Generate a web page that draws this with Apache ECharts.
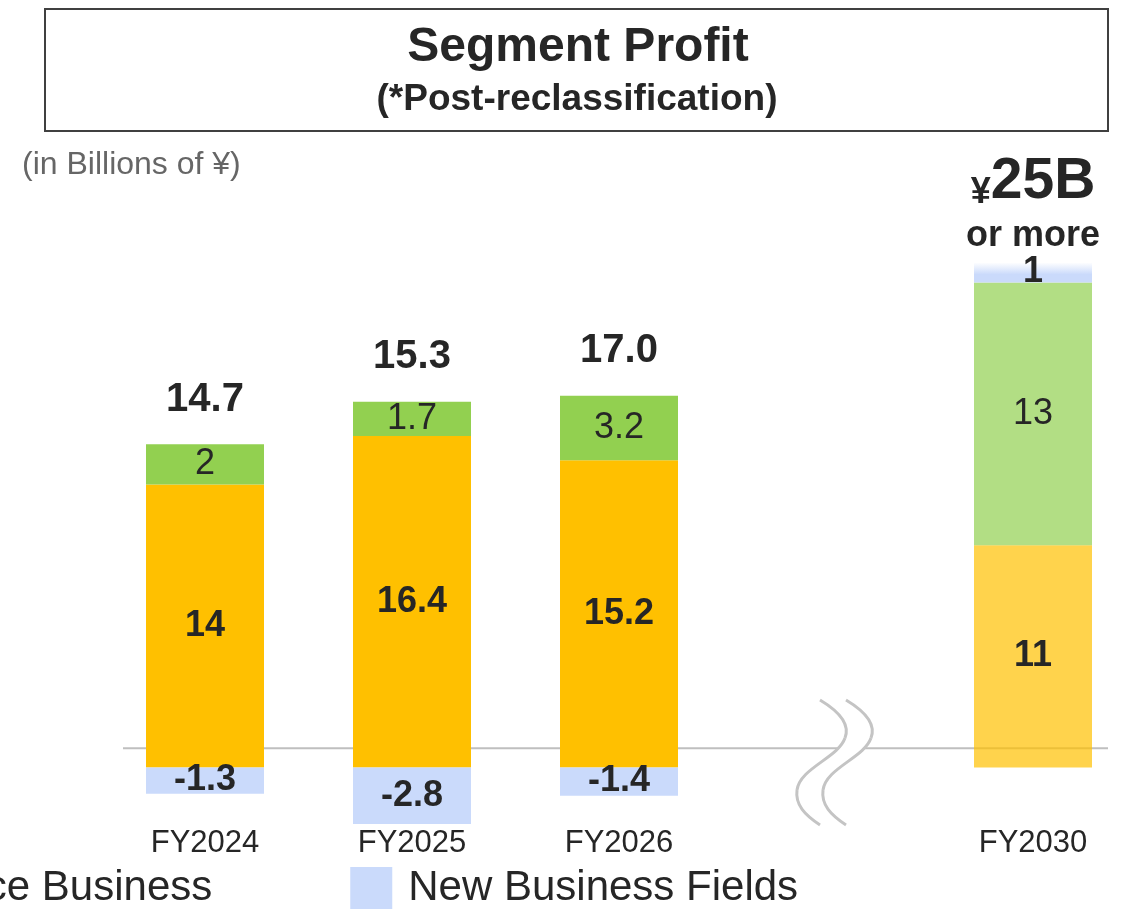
<!DOCTYPE html>
<html>
<head>
<meta charset="utf-8">
<script src="https://cdn.jsdelivr.net/npm/echarts@6/dist/echarts.min.js"></script>
<style>
  html, body { margin: 0; padding: 0; background: #fff; }
  #chart { width: 1127px; height: 911px; }
</style>
</head>
<body>
<div id="chart"></div>
<script>
// 数据
const categories = ['FY2024', 'FY2025', 'FY2026', '', 'FY2030']
const coreBusiness = [14, 16.4, 15.2, null, 11]
const serviceBusiness = [2, 1.7, 3.2, null, 13]
const newBusiness = [-1.3, -2.8, -1.4, null, 1]
const totalLabels = ['14.7', '15.3', '17.0', null, '25B']
const legendNames = ['Core Business', 'Service Business', 'New Business Fields']

const FONT = '"Liberation Sans", Arial, sans-serif'
const TEXT = '#262626'
const FORECAST = 4

// FY2030 is drawn lighter
const withForecast = (arr, style) => arr.map((v, i) => (i === FORECAST ? { value: v, itemStyle: style } : v))

const stackTops = categories.map((c, i) =>
  coreBusiness[i] == null ? null : coreBusiness[i] + serviceBusiness[i] + Math.max(newBusiness[i], 0)
)

const segLabel = (bold) => ({
  show: true,
  position: 'inside',
  fontFamily: FONT,
  fontSize: 36,
  fontWeight: bold ? 'bold' : 'normal',
  color: TEXT,
  formatter: (p) => String(p.value)
})

const chart = echarts.init(document.getElementById('chart'))

chart.setOption({
  animation: false,
  legend: {
    data: legendNames,
    left: -642,
    top: 862,
    itemWidth: 42,
    itemHeight: 42,
    itemGap: 138,
    icon: 'rect',
    textStyle: { fontFamily: FONT, fontSize: 42, color: TEXT, padding: [0, 0, 0, 11] }
  },
  grid: {
    left: 101.5,
    width: 1035,
    top: 222,
    height: 606,
    containLabel: false,
    outerBoundsMode: 'none'
  },
  xAxis: {
    type: 'category',
    data: categories,
    axisLine: { show: false },
    axisTick: { show: false },
    axisLabel: {
      margin: 0,
      fontFamily: FONT,
      fontSize: 31,
      color: TEXT
    }
  },
  yAxis: {
    type: 'value',
    min: -3,
    max: 27,
    show: false,
    splitLine: { show: false }
  },
  series: [
    {
      name: legendNames[0],
      type: 'bar',
      stack: 'profit',
      barWidth: 118,
      itemStyle: { color: '#FFC000' },
      label: segLabel(true),
      data: withForecast(coreBusiness, { color: 'rgba(255, 192, 0, 0.7)' })
    },
    {
      name: legendNames[1],
      type: 'bar',
      stack: 'profit',
      barWidth: 118,
      itemStyle: { color: '#92D050' },
      label: segLabel(false),
      data: withForecast(serviceBusiness, { color: 'rgba(146, 208, 80, 0.7)' })
    },
    {
      name: legendNames[2],
      type: 'bar',
      stack: 'profit',
      barWidth: 118,
      itemStyle: { color: '#CADAFB' },
      label: segLabel(true),
      data: withForecast(newBusiness, {
        color: {
          type: 'linear', x: 0, y: 0, x2: 0, y2: 1,
          colorStops: [
            { offset: 0, color: '#ffffff' },
            { offset: 0.6, color: '#CADAFB' },
            { offset: 1, color: '#CADAFB' }
          ]
        }
      })
    },
    {
      // 合计标签
      name: 'total',
      type: 'scatter',
      symbolSize: 1,
      itemStyle: { color: 'rgba(0,0,0,0)', opacity: 1 },
      silent: true,
      label: {
        show: true,
        position: 'top',
        distance: 24,
        fontFamily: FONT,
        fontSize: 40,
        fontWeight: 'bold',
        color: TEXT,
        formatter: (p) => totalLabels[p.dataIndex]
      },
      data: stackTops.map((v, i) => (i === FORECAST ? {
        value: v,
        label: {
          distance: 1,
          formatter: '{y|¥}{b|' + totalLabels[i] + '}\n{m|or more}',
          rich: {
            y: { fontFamily: FONT, fontSize: 36, fontWeight: 'bold', color: TEXT, lineHeight: 58, verticalAlign: 'bottom' },
            b: { fontFamily: FONT, fontSize: 57, fontWeight: 'bold', color: TEXT, lineHeight: 58 },
            m: { fontFamily: FONT, fontSize: 36, fontWeight: 'bold', color: TEXT, lineHeight: 50 }
          }
        }
      } : v))
    }
  ]
})

// 装饰：标题框、基线、断轴符号
const baseY = chart.convertToPixel({ yAxisIndex: 0 }, 0.95)
const breakX = chart.convertToPixel({ xAxisIndex: 0 }, 3) + 8
const wave = [
  [-14, 700, 6, 712, 16, 725, 11, 738],
  [11, 738, 4, 758, -34, 768, -37, 790],
  [-37, 790, -39, 805, -29, 815, -14, 825]
]
const waveCurves = (dx) => wave.map((s) => ({
  type: 'bezierCurve',
  shape: {
    x1: breakX + s[0] + dx, y1: s[1],
    cpx1: breakX + s[2] + dx, cpy1: s[3],
    cpx2: breakX + s[4] + dx, cpy2: s[5],
    x2: breakX + s[6] + dx, y2: s[7]
  },
  style: { fill: null, stroke: '#C4C4C4', lineWidth: 3 }
}))

chart.setOption({
  graphic: [
    {
      type: 'rect',
      shape: { x: 45, y: 9, width: 1063, height: 122 },
      style: { fill: null, stroke: '#404040', lineWidth: 2 }
    },
    {
      type: 'text',
      x: 578,
      y: 48,
      style: { text: 'Segment Profit', fontFamily: FONT, fontSize: 48, fontWeight: 'bold', fill: TEXT, align: 'center', verticalAlign: 'middle' }
    },
    {
      type: 'text',
      x: 577,
      y: 100,
      style: { text: '(*Post-reclassification)', fontFamily: FONT, fontSize: 37, fontWeight: 'bold', fill: TEXT, align: 'center', verticalAlign: 'middle' }
    },
    {
      type: 'text',
      x: 22,
      y: 165,
      style: { text: '(in Billions of ¥)', fontFamily: FONT, fontSize: 32, fill: '#666666', align: 'left', verticalAlign: 'middle' }
    },
    {
      type: 'line',
      z: -1,
      shape: { x1: 123, y1: baseY, x2: breakX + 5, y2: baseY },
      style: { stroke: '#BFBFBF', lineWidth: 2 }
    },
    {
      type: 'line',
      z: -1,
      shape: { x1: breakX + 31, y1: baseY, x2: 1108, y2: baseY },
      style: { stroke: '#BFBFBF', lineWidth: 2 }
    }
  ].concat(waveCurves(0), waveCurves(26))
})
</script>
</body>
</html>
